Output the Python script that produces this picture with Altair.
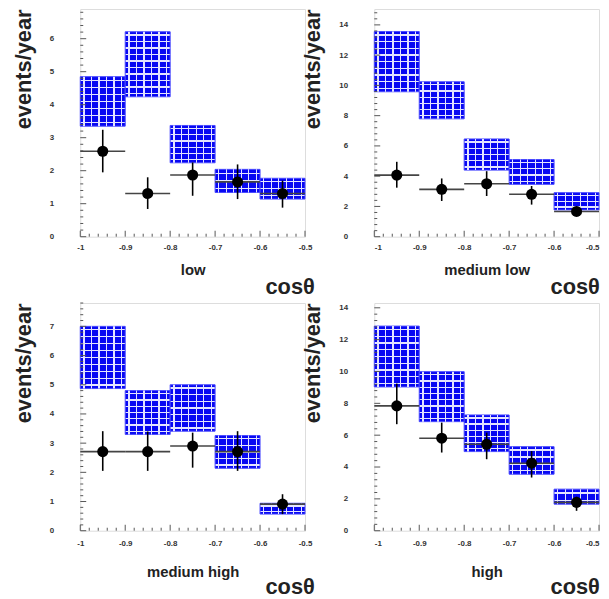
import altair as alt
import pandas as pd

# ---------------- data ----------------
bin_lo = [-1.0, -0.9, -0.8, -0.7, -0.6]
bin_hi = [-0.9, -0.8, -0.7, -0.6, -0.5]
bin_mid = [-0.95, -0.85, -0.75, -0.65, -0.55]

x_ticks = [-1.0, -0.9, -0.8, -0.7, -0.6, -0.5]
x_minor = [-0.98, -0.96, -0.94, -0.92, -0.88, -0.86, -0.84, -0.82,
           -0.78, -0.76, -0.74, -0.72, -0.68, -0.66, -0.64, -0.62,
           -0.58, -0.56, -0.54, -0.52]

panel_names = ["low", "medium low", "medium high", "high"]

# expected rate band (blue boxes): lower / upper edge
low_pred_lo = [3.35, 4.24, 2.24, 1.34, 1.14]
low_pred_hi = [4.85, 6.21, 3.37, 2.04, 1.77]
# observed points with vertical error
low_obs = [2.59, 1.31, 1.87, 1.66, 1.31]
low_obs_lo = [1.95, 0.84, 1.24, 1.14, 0.88]
low_obs_hi = [3.24, 1.80, 2.25, 2.19, 1.70]
low_ymax = 6.9
low_yticks = [0, 1, 2, 3, 4, 5, 6]

medlow_pred_lo = [9.58, 7.79, 4.40, 3.46, 1.77]
medlow_pred_hi = [13.56, 10.24, 6.46, 5.10, 2.91]
medlow_obs = [4.07, 3.13, 3.50, 2.80, 1.67]
medlow_obs_lo = [3.24, 2.36, 2.69, 2.12, 1.37]
medlow_obs_hi = [4.95, 3.85, 4.33, 3.35, 2.00]
medlow_ymax = 15.05
medlow_yticks = [0, 2, 4, 6, 8, 10, 12, 14]

medhigh_pred_lo = [4.87, 3.30, 3.41, 2.14, 0.57]
medhigh_pred_hi = [7.00, 4.80, 5.00, 3.26, 0.94]
medhigh_obs = [2.71, 2.71, 2.90, 2.71, 0.91]
medhigh_obs_lo = [2.05, 2.05, 2.16, 2.05, 0.57]
medhigh_obs_hi = [3.41, 3.40, 3.36, 3.41, 1.25]
medhigh_ymax = 7.8
medhigh_yticks = [0, 1, 2, 3, 4, 5, 6, 7]

high_pred_lo = [9.03, 6.85, 4.97, 3.55, 1.67]
high_pred_hi = [12.85, 9.99, 7.27, 5.28, 2.61]
high_obs = [7.84, 5.81, 5.43, 4.24, 1.78]
high_obs_lo = [6.69, 4.91, 4.49, 3.34, 1.25]
high_obs_hi = [9.24, 6.79, 6.16, 5.00, 2.13]
high_ymax = 14.3
high_yticks = [0, 2, 4, 6, 8, 10, 12, 14]

# ---------------- style ----------------
W, H = 227, 230
FONT = "Liberation Sans"
BLUE = "#0808f2"
HATCH = "#e4e4ff"
TICK = "#555"


def stripes(n, horizontal, base, line, frac):
    stops = []
    hw = frac / n / 2.0
    for i in range(n):
        a = i / n
        c = (i + 0.5) / n
        stops += [
            {"offset": a, "color": base},
            {"offset": c - hw, "color": base},
            {"offset": c - hw, "color": line},
            {"offset": c + hw, "color": line},
            {"offset": c + hw, "color": base},
        ]
    stops.append({"offset": 1, "color": base})
    g = {"gradient": "linear", "stops": stops, "x1": 0, "y1": 0}
    if horizontal:
        g.update({"x2": 0, "y2": 1})
    else:
        g.update({"x2": 1, "y2": 0})
    return g


def make_panel(name, plo, phi, obs, olo, ohi, ymax, yticks, right_col, bottom_row):
    df = pd.DataFrame({
        "lo": bin_lo, "hi": bin_hi, "mid": bin_mid,
        "plo": plo, "phi": phi, "obs": obs, "olo": olo, "ohi": ohi,
    })
    xs = alt.Scale(domain=[-1.0, -0.5], nice=False, zero=False)
    ys = alt.Scale(domain=[0, ymax], nice=False, zero=False)
    ystep = yticks[1] - yticks[0]
    yminor = [k * ystep / 5.0 for k in range(int(round(ymax / ystep * 5)) + 1)]
    yminor = [v for v in yminor if v <= ymax and v not in yticks]

    layers = []
    # hatched boxes, one per bin so the hatch pitch follows the box height
    for i in range(len(df)):
        row = df.iloc[[i]]
        hpx = (phi[i] - plo[i]) / ymax * H
        nrows = max(2, int(round(hpx / 6.7)))
        enc = dict(
            x=alt.X("lo:Q", scale=xs, axis=None),
            x2="hi:Q",
            y=alt.Y("plo:Q", scale=ys, axis=None),
            y2="phi:Q",
        )
        layers.append(alt.Chart(row).mark_rect(
            fill=stripes(nrows, True, BLUE, HATCH, 1.3 * nrows / hpx),
            stroke="#4848ff", strokeWidth=1).encode(**enc))
        layers.append(alt.Chart(row).mark_rect(
            fill=stripes(6, False, "rgba(255,255,255,0)", HATCH, 0.16)).encode(**enc))

    # inward ticks drawn from the tick lists
    ymaj_df = pd.DataFrame({"v": yticks})
    ymin_df = pd.DataFrame({"v": yminor})
    xmaj_df = pd.DataFrame({"v": x_ticks})
    xmin_df = pd.DataFrame({"v": x_minor})
    layers.append(alt.Chart(ymaj_df).mark_rule(color=TICK, strokeWidth=1).encode(
        y=alt.Y("v:Q", scale=ys, axis=None), x=alt.value(0), x2=alt.value(6)))
    layers.append(alt.Chart(ymin_df).mark_rule(color=TICK, strokeWidth=1).encode(
        y=alt.Y("v:Q", scale=ys, axis=None), x=alt.value(0), x2=alt.value(3)))
    layers.append(alt.Chart(xmaj_df).mark_rule(color=TICK, strokeWidth=1).encode(
        x=alt.X("v:Q", scale=xs, axis=None), y=alt.value(H), y2=alt.value(H - 6)))
    layers.append(alt.Chart(xmin_df).mark_rule(color=TICK, strokeWidth=1).encode(
        x=alt.X("v:Q", scale=xs, axis=None), y=alt.value(H), y2=alt.value(H - 3)))

    # horizontal error bars
    layers.append(alt.Chart(df).mark_rule(color="#444", strokeWidth=1.6).encode(
        x=alt.X("lo:Q", scale=xs, axis=None),
        x2="hi:Q",
        y=alt.Y("obs:Q", scale=ys, axis=None),
    ))
    # vertical error bars
    layers.append(alt.Chart(df).mark_rule(color="black", strokeWidth=1.6).encode(
        x=alt.X("mid:Q", scale=xs, axis=None),
        y=alt.Y("olo:Q", scale=ys, axis=None),
        y2="ohi:Q",
    ))
    # points (carry the labelled axes)
    layers.append(alt.Chart(df).mark_circle(size=125, color="black", opacity=1).encode(
        x=alt.X("mid:Q", scale=xs, axis=alt.Axis(
            values=x_ticks, orient="bottom", title=name, grid=False, domain=False,
            ticks=False, tickSize=0, labelExpr="'-' + format(abs(datum.value), '~g')",
            labelFont=FONT, labelFontSize=8, labelFontWeight="bold", labelColor="#333",
            labelPadding=(9 if bottom_row else 7), labelFlush=right_col,
            titleFont=FONT, titleFontSize=15, titleFontWeight="bold", titleColor="#222",
            titlePadding=(17 if bottom_row else 11))),
        y=alt.Y("obs:Q", scale=ys, axis=alt.Axis(
            values=yticks, orient="left", title="events/year", grid=False, domain=False,
            ticks=False, tickSize=0,
            labelFont=FONT, labelFontSize=8, labelFontWeight="bold", labelColor="#333",
            labelPadding=27,
            titleFont=FONT, titleFontSize=22, titleFontWeight="bold", titleColor="#222",
            titleAnchor="end", titlePadding=14)),
    ))

    return alt.layer(*layers).resolve_axis(x="independent", y="independent").properties(
        width=W, height=H,
        title=alt.TitleParams("cosθ", orient="bottom", anchor="end", font=FONT,
                              fontSize=22, fontWeight="bold", color="#222",
                              offset=(-2 if bottom_row else 0),
                              dx=(0 if right_col else 3)),
    )


p1 = make_panel(panel_names[0], low_pred_lo, low_pred_hi, low_obs, low_obs_lo,
                low_obs_hi, low_ymax, low_yticks, False, False)
p2 = make_panel(panel_names[1], medlow_pred_lo, medlow_pred_hi, medlow_obs, medlow_obs_lo,
                medlow_obs_hi, medlow_ymax, medlow_yticks, True, False)
p3 = make_panel(panel_names[2], medhigh_pred_lo, medhigh_pred_hi, medhigh_obs, medhigh_obs_lo,
                medhigh_obs_hi, medhigh_ymax, medhigh_yticks, False, True)
p4 = make_panel(panel_names[3], high_pred_lo, high_pred_hi, high_obs, high_obs_lo,
                high_obs_hi, high_ymax, high_yticks, True, True)

chart = alt.concat(p1, p2, p3, p4, columns=2, spacing={"row": 67, "column": 70},
                   bounds="flush").properties(
    padding={"left": 4, "top": -3, "right": 0, "bottom": 0}
).configure_view(stroke="#777", strokeWidth=1.5).configure(background="white")

chart.save("out.html", embed_options={"renderer": "svg", "actions": False})
